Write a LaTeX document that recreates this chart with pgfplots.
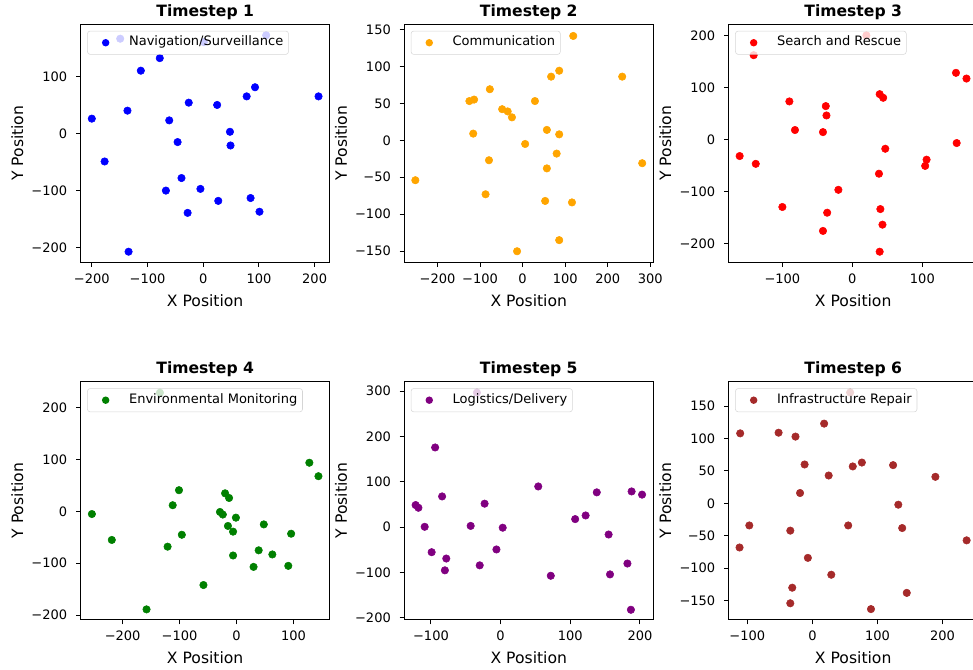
\documentclass[border=0pt]{standalone}
\usepackage{fontspec}
\setmainfont{DejaVu Sans}
\usepackage{pgfplots}
\pgfplotsset{compat=1.18}
\definecolor{mbrown}{RGB}{165,42,42}
\definecolor{morange}{RGB}{255,165,0}
\definecolor{mpurple}{RGB}{128,0,128}
\definecolor{mgreen}{RGB}{0,128,0}
\newcommand\tl[1]{\pgfmathparse{round(#1)}\pgfmathtruncatemacro\tv{\pgfmathresult}\ifnum\tv<0 −\the\numexpr-\tv\relax\else\tv\fi}
\pgfplotsset{
  panel/.style={
    scale only axis, width=186.75pt, height=178.5pt, anchor=north west,
    axis line style={line width=0.75pt, black},
    tick align=outside, tick pos=left,
    major tick length=3.4pt,
    major tick style={black, line width=0.75pt},
    xticklabel={\tl{\tick}}, yticklabel={\tl{\tick}},
    ticklabel style={font=\fontsize{9.75}{11}\selectfont},
    xticklabel style={inner sep=0pt, yshift=-5pt},
    yticklabel style={inner sep=0pt, xshift=-6.5pt},
    every axis x label/.style={at={(axis description cs:0.5,0)}, anchor=base, yshift=-32.8pt, font=\fontsize{11.7}{14}\selectfont},
    every axis y label/.style={at={(axis description cs:0,0.5)}, xshift=-43.1pt, rotate=90, anchor=base, font=\fontsize{11.7}{14}\selectfont},
    every axis title/.style={at={(axis description cs:0.5,1)}, anchor=base, yshift=6pt, font=\bfseries\fontsize{11.7}{14}\selectfont},
    xlabel={X Position}, ylabel={Y Position},
    legend style={at={(0,1)}, anchor=north west, xshift=4.9pt, yshift=-4.9pt,
      draw=black!20, fill=white, fill opacity=0.8, draw opacity=0.8, text opacity=1,
      rounded corners=2pt, inner xsep=3.9pt, inner ysep=3.9pt,
      font=\fontsize{9.75}{11}\selectfont,
      nodes={inner sep=0pt, text height=7.3pt, text depth=2.4pt, anchor=west}},
  },
  sc/.style={only marks, mark=*, mark size=2.8pt, color=#1, mark options={draw=none, fill=#1},
    legend image code/.code={\path[draw=none, fill=none] (0pt,-4pt) rectangle (27.3pt,4pt); \fill[#1, draw=none, fill opacity=1] (9.75pt,0pt) circle (2.8pt);}},
}
\begin{document}
\begin{tikzpicture}
% Row 1
\begin{axis}[panel, at={(60.5pt,-18.2pt)}, title={Timestep 1},
  xmin=-220, xmax=227, ymin=-225.5, ymax=191.3,
  xtick={-200,-100,0,100,200}, ytick={-200,-100,0,100}]
\addplot[sc=blue] coordinates {(-149,166) (1,160) (113,172) (-78,132) (-112,110) (-200,26) (-136,40) (-177,-49) (-134,-207) (-26,54) (-61,23) (-46,-15) (-39,-78) (-67,-100) (-28,-139) (-5,-97) (27,-118) (25,50) (48,3) (49,-21) (78,65) (93,81) (85,-113) (101,-137) (207,65)};
\addlegendentry{Navigation/Surveillance}
\end{axis}
\begin{axis}[panel, at={(303.2pt,-18.2pt)}, title={Timestep 2},
  xmin=-278, xmax=307, ymin=-164.9, ymax=156.8,
  xtick={-200,-100,0,100,200,300}, ytick={-150,-100,-50,0,50,100,150}]
\addplot[sc=morange] coordinates {(-252,-54) (-125,53) (-114,55) (-77,69) (-116,9) (-79,-27) (-87,-73) (-48,42) (-35,39) (-25,31) (6,-5) (-13,-150) (29,53) (67,86) (86,94) (119,141) (57,14) (86,8) (80,-18) (57,-38) (53,-82) (116,-84) (86,-135) (234,86) (281,-31)};
\addlegendentry{Communication}
\end{axis}
\begin{axis}[panel, at={(546.5pt,-18.2pt)}, title={Timestep 3},
  xmin=-176.7, xmax=179, ymin=-235.3, ymax=222.4,
  xtick={-100,0,100}, ytick={-200,-100,0,100,200}]
\addplot[sc=red] coordinates {(-141,163) (20,201) (-161,-31) (-138,-46) (-90,74) (-82,19) (-100,-129) (-38,65) (-37,47) (-42,15) (-20,-96) (-36,-140) (-42,-175) (39,88) (44,81) (47,-17) (38,-65) (40,-133) (43,-163) (39,-215) (106,-38) (104,-50) (148,129) (163,118) (149,-6)};
\addlegendentry{Search and Rescue}
\end{axis}
% Row 2
\begin{axis}[panel, at={(60.5pt,-286.3pt)}, title={Timestep 4},
  xmin=-273.7, xmax=163.7, ymin=-209, ymax=250.3,
  xtick={-200,-100,0,100}, ytick={-200,-100,0,100,200}]
\addplot[sc=mgreen] coordinates {(-134.5,229) (-254,-5) (-219,-55) (-158,-189) (-121,-68) (-101,41) (-112,12) (-96,-45) (-58,-142) (-29,-1) (-24,-6) (-20,35) (-13,26) (-15,-28) (-6,-39) (-1,-12) (-6,-85) (30,-107) (39,-75) (48,-25) (63,-83) (91,-105) (96,-43) (128,94) (144,68)};
\addlegendentry{Environmental Monitoring}
\end{axis}
\begin{axis}[panel, at={(303.2pt,-286.3pt)}, title={Timestep 5},
  xmin=-138.3, xmax=219.1, ymin=-204, ymax=321,
  xtick={-100,0,100,200}, ytick={-200,-100,0,100,200,300}]
\addplot[sc=mpurple] coordinates {(-34,297) (-122,49) (-118,43) (-109,1) (-99,-55) (-94,176) (-84,68) (-78,-69) (-80,-95) (-43,3) (-30,-84) (-23,52) (-6,-49) (3,-1) (54,90) (72,-107) (107,18) (122,26) (138,77) (155,-16) (157,-104) (182,-80) (187,-182) (188,79) (203,72)};
\addlegendentry{Logistics/Delivery}
\end{axis}
\begin{axis}[panel, at={(546.5pt,-286.3pt)}, title={Timestep 6},
  xmin=-128.7, xmax=254, ymin=-179.4, ymax=187.6,
  xtick={-100,0,100,200}, ytick={-150,-100,-50,0,50,100,150}]
\addplot[sc=mbrown] coordinates {(58,171) (-111,108) (-52,109) (-26,103) (18,123) (-12,60) (25,43) (-19,16) (62,57) (76,63) (124,59) (189,41) (132,-2) (-97,-34) (-112,-68) (-34,-42) (55,-34) (138,-38) (-7,-84) (29,-110) (-31,-130) (-34,-154) (145,-138) (90,-163) (237,-57)};
\addlegendentry{Infrastructure Repair}
\end{axis}
\pgfresetboundingbox
\useasboundingbox (0pt,0pt) rectangle (729.75pt,-502.5pt);
\end{tikzpicture}
\end{document}
